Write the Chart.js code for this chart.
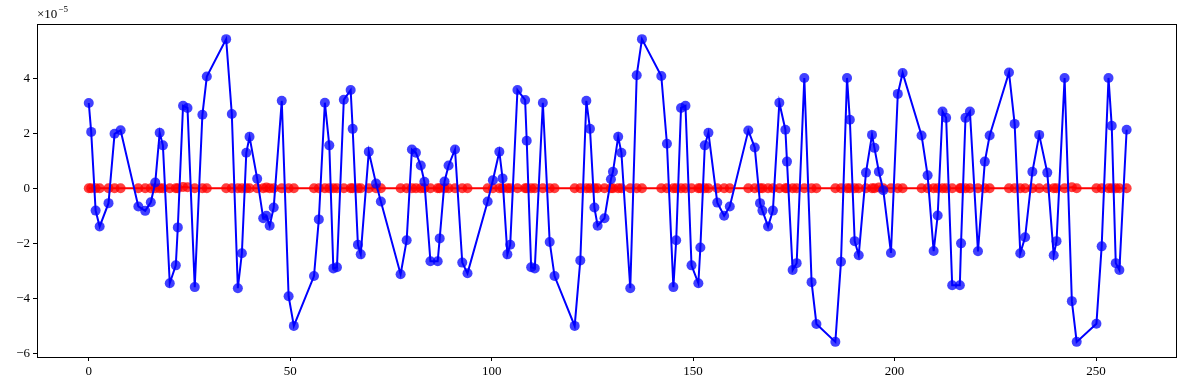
<!DOCTYPE html>
<html>
<head>
<meta charset="utf-8">
<script src="https://cdn.jsdelivr.net/npm/chart.js@4"></script>
<style>
  html, body { margin: 0; padding: 0; background: #fff; }
  #wrap { width: 1189px; height: 390px; position: relative; }
</style>
</head>
<body>
<div id="wrap"><canvas id="canvas" width="1189" height="390"></canvas></div>
<script>
"use strict";

// sample positions (shared by both series)
var xs = [
  0, 0.6, 1.7, 2.7, 4.9, 6.4, 7.9,
  12.3, 14.0, 15.4, 16.5, 17.6, 18.4, 20.1, 21.6, 22.1, 23.4, 24.5, 26.3, 28.2, 29.3,
  34.1, 35.5, 37.0, 38.0, 39.1, 39.9, 41.8, 43.3, 44.1, 44.9, 45.9, 47.9, 49.6, 50.9,
  55.9, 57.1, 58.6, 59.7, 60.7, 61.6, 63.3, 65.0, 65.5, 66.8, 67.5, 69.5, 71.3, 72.5,
  77.4, 78.9, 80.2, 81.2, 82.4, 83.3, 84.8, 86.6, 87.1, 88.3, 89.3, 90.9, 92.7, 94.0,
  99.0, 100.3, 101.9, 102.7, 103.9, 104.6, 106.4, 108.3, 108.7, 109.8, 110.7, 112.7, 114.4, 115.6,
  120.6, 122.0, 123.5, 124.4, 125.5, 126.3, 128.0, 129.6, 130.1, 131.4, 132.2, 134.4, 136.0, 137.3,
  142.1, 143.5, 145.1, 145.8, 147.0, 148.1, 149.6, 151.3, 151.8, 152.9, 153.8, 156.0, 157.7, 159.1,
  163.7, 165.3, 166.6, 167.2, 168.6, 169.8, 171.4, 172.9, 173.3, 174.7, 175.7, 177.6, 179.4, 180.6,
  185.3, 186.7, 188.2, 188.9, 190.1, 191.1, 192.9, 194.4, 195.0, 196.1, 197.2, 199.1, 200.8, 202.0,
  206.7, 208.2, 209.7, 210.7, 211.9, 212.8, 214.3, 216.2, 216.5, 217.6, 218.7, 220.7, 222.4, 223.6,
  228.4, 229.8, 231.2, 232.4, 234.2, 235.9, 237.9, 239.5, 240.2, 242.2, 244.0, 245.2,
  250.1, 251.4, 253.1, 253.9, 254.9, 255.8, 257.6
];

// blue series, in units of 1e-5
var blueVals = [
  3.10, 2.05, -0.81, -1.39, -0.54, 1.98, 2.11,
  -0.66, -0.82, -0.51, 0.21, 2.02, 1.56, -3.45, -2.80, -1.42, 3.00, 2.92, -3.59, 2.67, 4.06,
  5.42, 2.70, -3.63, -2.36, 1.29, 1.87, 0.35, -1.09, -1.00, -1.36, -0.70, 3.18, -3.92, -5.00,
  -3.19, -1.13, 3.11, 1.56, -2.91, -2.87, 3.22, 3.57, 2.16, -2.05, -2.40, 1.33, 0.17, -0.48,
  -3.12, -1.89, 1.41, 1.29, 0.83, 0.24, -2.65, -2.65, -1.82, 0.25, 0.83, 1.41, -2.70, -3.09,
  -0.48, 0.29, 1.33, 0.36, -2.40, -2.05, 3.57, 3.21, 1.73, -2.87, -2.91, 3.11, -1.95, -3.19,
  -5.00, -2.62, 3.18, 2.16, -0.70, -1.36, -1.09, 0.33, 0.60, 1.87, 1.29, -3.63, 4.11, 5.42,
  4.08, 1.62, -3.59, -1.89, 2.92, 3.00, -2.80, -3.45, -2.15, 1.56, 2.02, -0.52, -1.00, -0.66,
  2.10, 1.48, -0.54, -0.81, -1.39, -0.81, 3.11, 2.13, 0.97, -2.97, -2.72, 4.01, -3.41, -4.93,
  -5.58, -2.67, 4.01, 2.49, -1.92, -2.43, 0.57, 1.94, 1.47, 0.60, -0.07, -2.35, 3.43, 4.19,
  1.92, 0.47, -2.28, -0.99, 2.79, 2.56, -3.52, -3.52, -2.00, 2.56, 2.79, -2.29, 0.97, 1.92,
  4.21, 2.34, -2.36, -1.78, 0.60, 1.94, 0.57, -2.43, -1.92, 4.01, -4.10, -5.58,
  -4.92, -2.11, 4.01, 2.27, -2.72, -2.97, 2.13
];

// red series, in units of 1e-5 (almost flat)
var redVals = [
  0, 0, 0, 0, 0, 0, 0,
  0, 0, 0, 0, 0, 0, 0, 0, 0, 0.05, 0.04, 0, 0, 0,
  0, 0, 0, 0, 0, 0, 0, 0, 0.03, 0, 0, 0, 0, 0,
  0, 0, 0, 0, 0, 0, 0, 0, 0, 0, 0, 0, 0, 0,
  0, 0, 0, 0, 0, 0, 0, 0, 0, 0, 0, 0, 0, 0,
  0, 0, 0, 0, 0, 0, 0, 0, 0, 0, 0, 0, 0, 0,
  0, 0, 0, 0, 0, 0, 0, 0, 0, 0, 0, 0, 0, 0,
  0, 0, 0, 0, 0, 0, 0, 0, 0, 0, 0, 0, 0, 0,
  0, 0, 0, 0, 0, 0, 0, 0, 0, 0, 0, 0, 0, 0,
  0, 0, 0, 0, 0, 0, 0, 0, 0, 0.03, 0, 0, 0, 0,
  0, 0, 0, 0, 0, 0, 0, 0, 0, 0, 0, 0, 0, 0,
  0, 0, 0, 0, 0, 0, 0, 0, 0, 0, 0.04, 0,
  0, 0, 0, 0, 0, 0, 0
];

var xTicks = [0, 50, 100, 150, 200, 250];
var yTicks = [-6, -4, -2, 0, 2, 4];

var FONT = "'Liberation Serif', 'DejaVu Serif', serif";

function toPoints(vals) {
  return xs.map(function(x, i) { return { x: x, y: vals[i] }; });
}

function fmt(v) {
  return v < 0 ? '\u2212' + Math.abs(v) : String(v);
}

// frame + offset label like matplotlib
var framePlugin = {
  id: 'frame',
  afterDraw: function(chart) {
    var a = chart.chartArea, c = chart.ctx;
    c.save();
    c.strokeStyle = '#000';
    c.lineWidth = 1;
    c.strokeRect(Math.round(a.left) + 0.5, Math.round(a.top) + 0.5,
                 Math.round(a.right - a.left), Math.round(a.bottom - a.top));
    c.fillStyle = '#000';
    c.textBaseline = 'alphabetic';
    c.font = '13px ' + FONT;
    c.fillText('\u00d710', a.left, a.top - 6);
    var w = c.measureText('\u00d710').width;
    c.font = '9px ' + FONT;
    c.fillText('\u22125', a.left + w + 1, a.top - 12);
    c.restore();
  }
};

window.onload = function() {
  var ctx = document.getElementById('canvas').getContext('2d');
  window.myLine = new Chart(ctx, {
    type: 'line',
    data: {
      datasets: [{
        label: 'blue',
        data: toPoints(blueVals),
        borderColor: '#0000ff',
        backgroundColor: 'rgba(0,0,255,0.75)',
        borderWidth: 2,
        pointRadius: 5,
        pointBorderWidth: 0,
        pointBackgroundColor: 'rgba(0,0,255,0.75)',
        tension: 0
      }, {
        label: 'red',
        data: toPoints(redVals),
        borderColor: '#ff0000',
        backgroundColor: 'rgba(255,0,0,0.75)',
        borderWidth: 2,
        pointRadius: 5,
        pointBorderWidth: 0,
        pointBackgroundColor: 'rgba(255,0,0,0.75)',
        tension: 0
      }]
    },
    options: {
      responsive: false,
      animation: false,
      devicePixelRatio: 1,
      layout: { padding: { left: 0, right: 13, top: 24, bottom: 0 } },
      plugins: {
        legend: { display: false },
        title: { display: false },
        tooltip: { enabled: false }
      },
      scales: {
        x: {
          type: 'linear',
          min: -12.85,
          max: 269.85,
          afterBuildTicks: function(scale) {
            scale.ticks = xTicks.map(function(v) { return { value: v }; });
          },
          afterFit: function(scale) { scale.height = 33; },
          grid: { drawOnChartArea: false, drawTicks: true, tickLength: 4, color: '#000' },
          border: { display: true, color: '#000' },
          ticks: {
            color: '#000',
            padding: 3,
            maxRotation: 0,
            font: { family: FONT, size: 13 },
            callback: function(v) { return fmt(v); }
          }
        },
        y: {
          type: 'linear',
          min: -6.13,
          max: 5.97,
          afterBuildTicks: function(scale) {
            scale.ticks = yTicks.map(function(v) { return { value: v }; });
          },
          afterFit: function(scale) { scale.width = 37; },
          grid: { drawOnChartArea: false, drawTicks: true, tickLength: 4, color: '#000' },
          border: { display: true, color: '#000' },
          ticks: {
            color: '#000',
            padding: 3,
            font: { family: FONT, size: 13 },
            callback: function(v) { return fmt(v); }
          }
        }
      }
    },
    plugins: [framePlugin]
  });
};
</script>
</body>
</html>
